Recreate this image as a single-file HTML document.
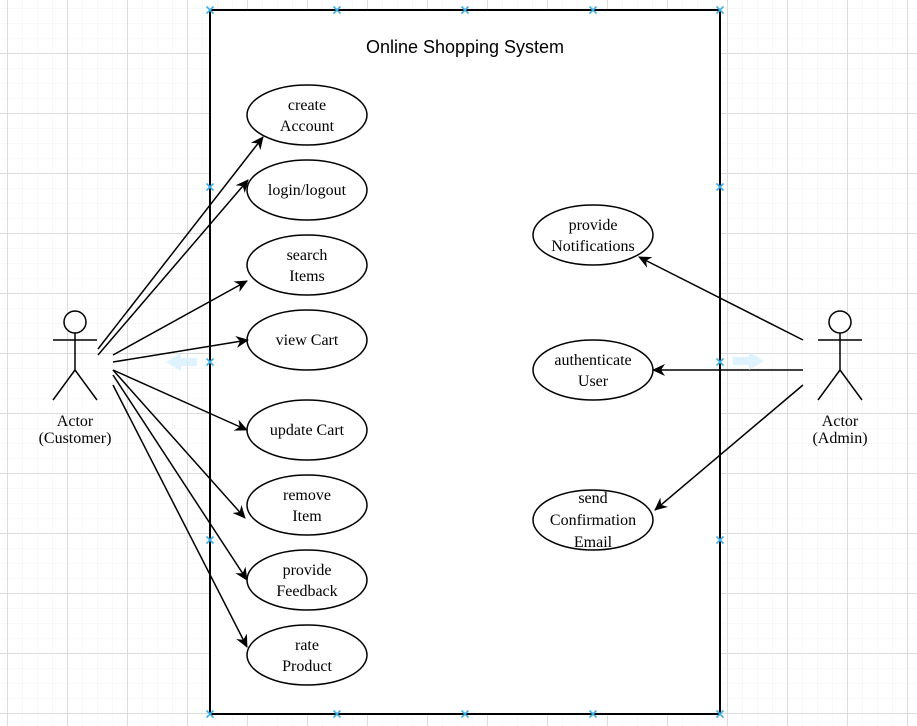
<!DOCTYPE html>
<html><head><meta charset="utf-8"><style>
html,body{margin:0;padding:0;background:#fff;}
svg{display:block;}
text{font-family:"Liberation Serif",serif;font-size:16px;fill:#000;}
</style></head><body>
<svg width="917" height="726" xmlns="http://www.w3.org/2000/svg">
<defs>
<pattern id="minor" width="15" height="15" patternUnits="userSpaceOnUse" x="7" y="8">
<path d="M0 0H15M0 0V15" stroke="#f0f0f0" stroke-width="1" fill="none"/>
</pattern>
<pattern id="major" width="60" height="60" patternUnits="userSpaceOnUse" x="7" y="53">
<path d="M0 0.5H60M0.5 0V60" stroke="#dcdcdc" stroke-width="1" fill="none"/>
</pattern>
<marker id="ar" markerWidth="14" markerHeight="14" refX="12" refY="7" orient="auto" markerUnits="userSpaceOnUse" viewBox="0 0 14 14">
<path d="M0,1 L13,7 L0,13 L4,7 Z" fill="#000"/>
</marker>
</defs>
<rect width="917" height="726" fill="url(#minor)"/>
<rect width="917" height="726" fill="url(#major)"/>
<rect x="210" y="10" width="510" height="704" fill="#fff" stroke="#000" stroke-width="2"/>
<text x="465" y="53" text-anchor="middle" style="font-family:'Liberation Sans',sans-serif;font-size:18px">Online Shopping System</text>

<g fill="#fff" stroke="#000" stroke-width="1.5">
<ellipse cx="307" cy="115" rx="60" ry="30"/>
<ellipse cx="307" cy="190" rx="60" ry="30"/>
<ellipse cx="307" cy="265" rx="60" ry="30"/>
<ellipse cx="307" cy="340" rx="60" ry="30"/>
<ellipse cx="307" cy="430" rx="60" ry="30"/>
<ellipse cx="307" cy="505" rx="60" ry="30"/>
<ellipse cx="307" cy="580" rx="60" ry="30"/>
<ellipse cx="307" cy="655" rx="60" ry="30"/>
<ellipse cx="593" cy="235" rx="60" ry="30"/>
<ellipse cx="593" cy="370" rx="60" ry="30"/>
<ellipse cx="593" cy="520" rx="60" ry="30"/>
</g>
<g text-anchor="middle">
<text x="307" y="110">create</text><text x="307" y="131">Account</text>
<text x="307" y="195">login/logout</text>
<text x="307" y="260">search</text><text x="307" y="281">Items</text>
<text x="307" y="345">view Cart</text>
<text x="307" y="435">update Cart</text>
<text x="307" y="500">remove</text><text x="307" y="521">Item</text>
<text x="307" y="575">provide</text><text x="307" y="596">Feedback</text>
<text x="307" y="650">rate</text><text x="307" y="671">Product</text>
<text x="593" y="230">provide</text><text x="593" y="251">Notifications</text>
<text x="593" y="365">authenticate</text><text x="593" y="386">User</text>
<text x="593" y="503">send</text><text x="593" y="525">Confirmation</text><text x="593" y="547">Email</text>
<text x="75" y="426">Actor</text><text x="75" y="443">(Customer)</text>
<text x="840" y="426">Actor</text><text x="840" y="443">(Admin)</text>
</g>

<g stroke="#000" stroke-width="1.5" fill="none">
<circle cx="75" cy="322" r="11" fill="#fff"/>
<path d="M75 333V370M53 340H97M75 370L53 400M75 370L97 400"/>
<circle cx="840" cy="322" r="11" fill="#fff"/>
<path d="M840 333V370M818 340H862M840 370L818 400M840 370L862 400"/>
</g>

<g stroke="#000" stroke-width="1.5" fill="none" marker-end="url(#ar)">
<line x1="98" y1="349" x2="263" y2="137"/>
<line x1="98" y1="355" x2="248" y2="180"/>
<line x1="113" y1="355" x2="247" y2="281"/>
<line x1="113" y1="362" x2="248" y2="340"/>
<line x1="113" y1="370" x2="247" y2="430"/>
<line x1="113" y1="370" x2="245" y2="518"/>
<line x1="113" y1="375" x2="247" y2="580"/>
<line x1="113" y1="385" x2="247" y2="647"/>
<line x1="803" y1="340" x2="639" y2="257"/>
<line x1="803" y1="370" x2="653" y2="370"/>
<line x1="803" y1="385" x2="655" y2="510"/>
</g>

<g fill="#d6f0fc" opacity="0.8">
<path d="M197 358H181V353L166 362L181 371V366H197Z"/>
<path d="M733 357H749V352L764 361L749 370V365H733Z"/>
</g>

<g stroke="#3fb0e8" stroke-width="1.6">
<path d="M206.5 6.5l7 7M213.5 6.5l-7 7 M333.5 6.5l7 7M340.5 6.5l-7 7 M461.5 6.5l7 7M468.5 6.5l-7 7 M589.5 6.5l7 7M596.5 6.5l-7 7 M716.5 6.5l7 7M723.5 6.5l-7 7"/>
<path d="M206.5 710.5l7 7M213.5 710.5l-7 7 M333.5 710.5l7 7M340.5 710.5l-7 7 M461.5 710.5l7 7M468.5 710.5l-7 7 M589.5 710.5l7 7M596.5 710.5l-7 7 M716.5 710.5l7 7M723.5 710.5l-7 7"/>
<path d="M206.5 183.5l7 7M213.5 183.5l-7 7 M206.5 358.5l7 7M213.5 358.5l-7 7 M206.5 536.5l7 7M213.5 536.5l-7 7"/>
<path d="M716.5 183.5l7 7M723.5 183.5l-7 7 M716.5 358.5l7 7M723.5 358.5l-7 7 M716.5 536.5l7 7M723.5 536.5l-7 7"/>
</g>
</svg>
</body></html>
